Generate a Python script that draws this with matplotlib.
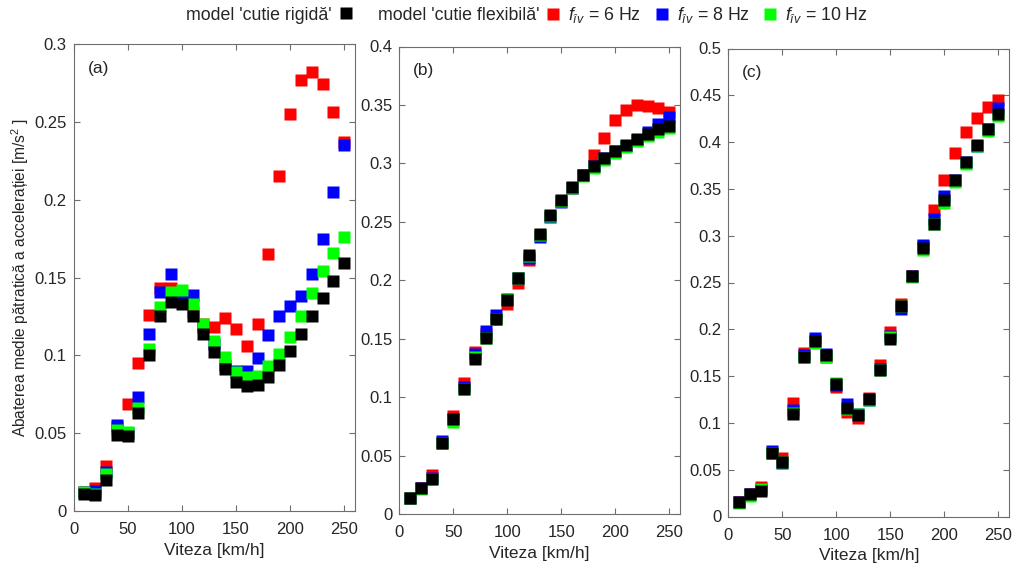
import numpy as np
import matplotlib
matplotlib.use("Agg")
import matplotlib.pyplot as plt

plt.rcParams['font.family'] = ['Liberation Sans', 'DejaVu Sans']
plt.rcParams['mathtext.fontset'] = 'custom'
plt.rcParams['mathtext.it'] = 'Liberation Sans:italic'
plt.rcParams['mathtext.rm'] = 'Liberation Sans'

# viteza [km/h]
viteza = np.arange(10, 260, 10)

# (a)
a_rigid = [0.011, 0.010, 0.020, 0.049, 0.048, 0.063, 0.100, 0.125, 0.134, 0.133,
           0.125, 0.114, 0.102, 0.091, 0.083, 0.080, 0.081, 0.086, 0.094, 0.103,
           0.114, 0.125, 0.137, 0.148, 0.159]
a_f6 = [0.012, 0.015, 0.029, 0.054, 0.069, 0.095, 0.126, 0.143, 0.143, 0.137,
        0.128, 0.120, 0.118, 0.124, 0.117, 0.106, 0.120, 0.165, 0.215, 0.255,
        0.277, 0.282, 0.274, 0.256, 0.237]
a_f8 = [0.012, 0.013, 0.025, 0.055, 0.050, 0.073, 0.114, 0.141, 0.152, 0.137,
        0.139, 0.118, 0.107, 0.094, 0.090, 0.090, 0.098, 0.113, 0.125, 0.132,
        0.138, 0.152, 0.175, 0.205, 0.235]
a_f10 = [0.012, 0.011, 0.024, 0.052, 0.051, 0.066, 0.104, 0.131, 0.141, 0.142,
         0.133, 0.120, 0.109, 0.099, 0.089, 0.086, 0.087, 0.093, 0.101, 0.112,
         0.125, 0.140, 0.154, 0.166, 0.176]

# (b)
b_rigid = [0.014, 0.022, 0.030, 0.061, 0.081, 0.107, 0.133, 0.151, 0.167, 0.183,
           0.202, 0.222, 0.240, 0.256, 0.269, 0.280, 0.290, 0.298, 0.305, 0.311,
           0.316, 0.321, 0.325, 0.329, 0.332]
b_f6 = [0.014, 0.022, 0.033, 0.061, 0.084, 0.112, 0.139, 0.154, 0.167, 0.180,
        0.198, 0.217, 0.239, 0.255, 0.268, 0.279, 0.290, 0.307, 0.322, 0.337,
        0.346, 0.350, 0.349, 0.347, 0.344]
b_f8 = [0.014, 0.022, 0.031, 0.0625, 0.081, 0.109, 0.137, 0.157, 0.170, 0.184,
        0.202, 0.219, 0.237, 0.254, 0.267, 0.279, 0.290, 0.298, 0.305, 0.311,
        0.315, 0.320, 0.327, 0.334, 0.340]
b_f10 = [0.014, 0.021, 0.030, 0.061, 0.079, 0.107, 0.134, 0.151, 0.167, 0.184,
         0.202, 0.221, 0.239, 0.255, 0.268, 0.279, 0.289, 0.296, 0.303, 0.309,
         0.314, 0.319, 0.323, 0.327, 0.330]

# (c)
c_rigid = [0.015, 0.024, 0.027, 0.068, 0.058, 0.109, 0.170, 0.187, 0.173, 0.142,
           0.116, 0.108, 0.126, 0.156, 0.190, 0.225, 0.257, 0.287, 0.313, 0.338,
           0.359, 0.379, 0.397, 0.414, 0.430]
c_f6 = [0.015, 0.024, 0.031, 0.068, 0.062, 0.121, 0.175, 0.187, 0.170, 0.138,
        0.112, 0.105, 0.127, 0.162, 0.197, 0.227, 0.257, 0.289, 0.327, 0.359,
        0.388, 0.411, 0.426, 0.438, 0.445]
c_f8 = [0.015, 0.024, 0.029, 0.070, 0.057, 0.114, 0.173, 0.191, 0.174, 0.141,
        0.120, 0.109, 0.124, 0.158, 0.193, 0.222, 0.257, 0.290, 0.318, 0.342,
        0.359, 0.379, 0.396, 0.414, 0.436]
c_f10 = [0.014, 0.022, 0.029, 0.068, 0.058, 0.111, 0.170, 0.185, 0.170, 0.143,
         0.115, 0.110, 0.125, 0.157, 0.192, 0.225, 0.256, 0.285, 0.312, 0.335,
         0.357, 0.377, 0.396, 0.412, 0.428]

panels = [
    ("(a)", a_rigid, a_f6, a_f8, a_f10, 0.3, [0, 0.05, 0.1, 0.15, 0.2, 0.25, 0.3]),
    ("(b)", b_rigid, b_f6, b_f8, b_f10, 0.4, [0, 0.05, 0.1, 0.15, 0.2, 0.25, 0.3, 0.35, 0.4]),
    ("(c)", c_rigid, c_f6, c_f8, c_f10, 0.5, [0, 0.05, 0.1, 0.15, 0.2, 0.25, 0.3, 0.35, 0.4, 0.45, 0.5]),
]

# axes boxes in pixels: left, bottom, right, top
W, H = 1014, 567
boxes = [(73.5, 511, 355, 44), (399.3, 514, 680, 46.5), (728.3, 516.5, 1009.3, 48.5)]

txt = '#262626'
edge = '#6e6e6e'
ms = 8.7
lfs = 12.8

fig = plt.figure(figsize=(W / 100, H / 100), dpi=100)
handles = None
for (tag, rig, f6, f8, f10, ymax, yt), (l, b, r, t) in zip(panels, boxes):
    ax = fig.add_axes([l / W, 1 - b / H, (r - l) / W, (b - t) / H])
    hr, = ax.plot(viteza, f6, 's', color='#ff0000', ms=ms, mec='none')
    hb, = ax.plot(viteza, f8, 's', color='#0000ff', ms=ms, mec='none')
    hg, = ax.plot(viteza, f10, 's', color='#00ff00', ms=ms, mec='none')
    hk, = ax.plot(viteza, rig, 's', color='black', ms=ms, mec='none')
    if handles is None:
        handles = (hk, hr, hb, hg)
    ax.set_xlim(0, 260)
    ax.set_ylim(0, ymax)
    ax.set_xticks([0, 50, 100, 150, 200, 250])
    ax.set_yticks(yt)
    ax.set_yticklabels([('%g' % v) for v in yt])
    ax.tick_params(direction='in', top=True, right=True, length=4, width=0.8,
                   colors=edge, labelcolor=txt, labelsize=12)
    ax.tick_params(axis='x', pad=8)
    ax.tick_params(axis='y', pad=5)
    for s in ax.spines.values():
        s.set_color(edge)
        s.set_linewidth(0.8)
    ax.set_xlabel('Viteza [km/h]', fontsize=12.5, color=txt, labelpad=4)
    ax.text(0.05, 0.948, tag, transform=ax.transAxes, fontsize=12.5,
            color=txt, va='center', ha='left')
    if tag == "(a)":
        ax.set_ylabel('Abaterea medie pătratică a accelerației [m/s$^2$ ]',
                      fontsize=11.2, color=txt, labelpad=2)

hk, hr, hb, hg = handles
ly = 1 - 15 / H
fig.legend([hk], ["model 'cutie rigidă'"], loc='center left',
           bbox_to_anchor=(186 / W, ly), frameon=False, markerfirst=False,
           handlelength=0.8, handletextpad=0.4, fontsize=lfs,
           borderaxespad=0, borderpad=0, labelcolor=txt)
fig.text(378 / W, ly, "model 'cutie flexibilă'", ha='left', va='center',
         fontsize=lfs, color=txt)
fig.legend([hr, hb, hg],
           [r'$f_{\mathit{îv}}$ = 6 Hz', r'$f_{\mathit{îv}}$ = 8 Hz', r'$f_{\mathit{îv}}$ = 10 Hz'],
           loc='center left', bbox_to_anchor=(546 / W, ly), frameon=False, ncol=3,
           handlelength=0.8, handletextpad=0.45, columnspacing=0.75, fontsize=lfs,
           borderaxespad=0, borderpad=0, labelcolor=txt)

fig.savefig('out.png', dpi=100)
